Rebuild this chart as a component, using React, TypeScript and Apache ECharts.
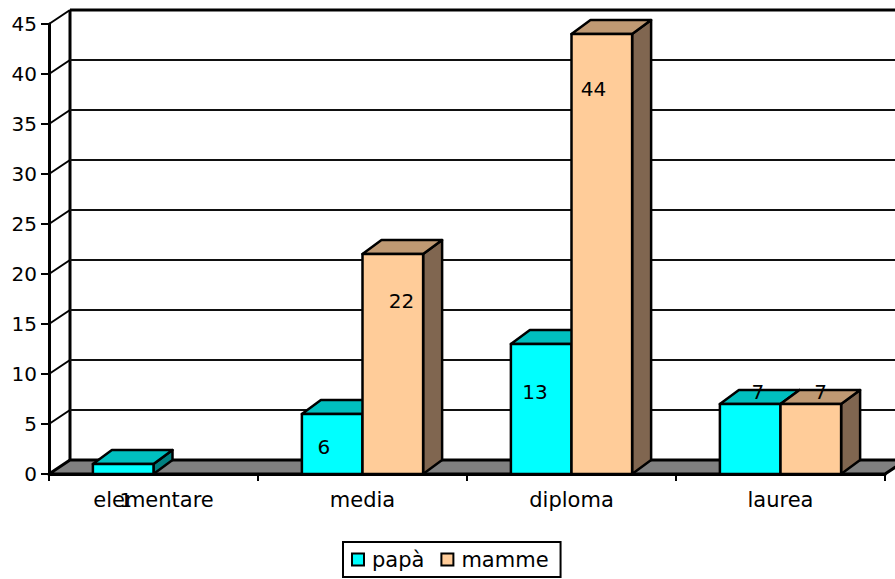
import React, { useEffect, useRef } from "react";
import * as echarts from "echarts";

// Titolo di studio dei genitori
const categories = ["elementare", "media", "diploma", "laurea"];
const papa = [1, 6, 13, 7];
const mamme = [0, 22, 44, 7];
const yTicks = [0, 5, 10, 15, 20, 25, 30, 35, 40, 45];

// Layout of the pseudo-3D look
const WALL_DX = 21;
const WALL_DY = -14;
const BAR_DX = 19;
const BAR_DY = -14;
const BAR_RATIO = 0.29;
const FONT = "DejaVu Sans";

// Where each value label sits, relative to the bar's front top-left corner
const papaLabelNudge = [[33, 36], [22, 33], [24, 48], [38, -12]];
const mammeLabelNudge = [[0, 0], [39, 47], [22, 55], [40, -12]];

const COLORS = {
  papa: { front: "#00FFFF", top: "#00BFBF", side: "#008080" },
  mamme: { front: "#FFCC99", top: "#BF9973", side: "#806650" },
};

function barRenderer(
  side: 0 | 1,
  colors: { front: string; top: string; side: string },
  nudges: number[][]
) {
  return (params: any, api: any) => {
    const ci = api.value(0);
    const v = api.value(1);
    if (!v) return { type: "group", children: [] };
    const base = api.coord([ci, 0]);
    const tip = api.coord([ci, v]);
    const band = api.size([1, 0])[0];
    const w = band * BAR_RATIO;
    const x0 = side === 0 ? base[0] - w : base[0];
    const x1 = x0 + w;
    const yB = base[1];
    const yT = tip[1];
    const stroke = { stroke: "#000", lineWidth: 2.5, lineJoin: "round" };
    const nudge = nudges[ci] || [w / 2, 30];
    return {
      type: "group",
      children: [
        {
          type: "polygon",
          shape: {
            points: [
              [x1, yT],
              [x1 + BAR_DX, yT + BAR_DY],
              [x1 + BAR_DX, yB + BAR_DY],
              [x1, yB],
            ],
          },
          style: { fill: colors.side, ...stroke },
        },
        {
          type: "polygon",
          shape: {
            points: [
              [x0, yT],
              [x1, yT],
              [x1 + BAR_DX, yT + BAR_DY],
              [x0 + BAR_DX, yT + BAR_DY],
            ],
          },
          style: { fill: colors.top, ...stroke },
        },
        {
          type: "rect",
          shape: { x: x0, y: yT, width: w, height: yB - yT },
          style: { fill: colors.front, ...stroke },
        },
        {
          type: "text",
          x: x0 + nudge[0],
          y: yT + nudge[1],
          style: {
            text: String(v),
            fill: "#000",
            fontSize: 20,
            fontFamily: FONT,
            align: "center",
            verticalAlign: "middle",
          },
        },
      ],
    };
  };
}

function wallRenderer(params: any, api: any) {
  const v = api.value(1);
  const cs = params.coordSys;
  const left = cs.x;
  const right = cs.x + cs.width;
  const y = api.coord([0, v])[1];
  const top = api.coord([0, yTicks[yTicks.length - 1]])[1];
  const children: any[] = [];
  if (v === 0) {
    children.push({
      type: "polygon",
      shape: {
        points: [
          [left, y],
          [right, y],
          [right + WALL_DX, y + WALL_DY],
          [left + WALL_DX, y + WALL_DY],
        ],
      },
      style: { fill: "#808080", stroke: "#000", lineWidth: 3, lineJoin: "round" },
    });
    children.push({
      type: "line",
      shape: { x1: left + WALL_DX, y1: y + WALL_DY, x2: left + WALL_DX, y2: top + WALL_DY },
      style: { stroke: "#000", lineWidth: 3 },
    });
    return { type: "group", children };
  }
  const isTop = v === yTicks[yTicks.length - 1];
  children.push({
    type: "line",
    shape: { x1: left, y1: y, x2: left + WALL_DX, y2: y + WALL_DY },
    style: { stroke: "#000", lineWidth: 2 },
  });
  children.push({
    type: "line",
    shape: { x1: left + WALL_DX, y1: y + WALL_DY, x2: right + WALL_DX, y2: y + WALL_DY },
    style: { stroke: isTop ? "#000" : "#111", lineWidth: isTop ? 3 : 1.8 },
  });
  return { type: "group", children };
}

export default function App() {
  const ref = useRef<HTMLDivElement>(null);

  useEffect(() => {
    document.body.style.margin = "0";
    if (!ref.current) return;
    const chart = echarts.init(ref.current, null, { renderer: "svg" });
    chart.setOption({
      animation: false,
      backgroundColor: "#fff",
      textStyle: { fontFamily: FONT },
      grid: { left: 49, right: 10, top: 24, bottom: 105, containLabel: false },
      legend: {
        data: ["papà", "mamme"],
        left: 343,
        top: 542,
        orient: "horizontal",
        icon: "rect",
        itemWidth: 12,
        itemHeight: 12,
        itemGap: 16,
        borderColor: "#000",
        borderWidth: 2,
        padding: [7, 12, 7, 8],
        itemStyle: { borderColor: "#000", borderWidth: 2 },
        textStyle: { fontSize: 21, fontFamily: FONT, color: "#000", padding: [0, 0, 0, 3] },
        selectedMode: false,
      },
      xAxis: {
        type: "category",
        data: categories,
        boundaryGap: true,
        axisLine: { show: true, lineStyle: { color: "#000", width: 3 } },
        axisTick: { show: true, length: 7, lineStyle: { color: "#000", width: 2 } },
        axisLabel: { fontSize: 21, fontFamily: FONT, color: "#000", margin: 15 },
        splitLine: { show: false },
      },
      yAxis: {
        type: "value",
        min: 0,
        max: 45,
        interval: 5,
        axisLine: { show: true, lineStyle: { color: "#000", width: 3 } },
        axisTick: { show: true, length: 8, lineStyle: { color: "#000", width: 2 } },
        axisLabel: { fontSize: 20, fontFamily: FONT, color: "#000", margin: 12 },
        splitLine: { show: false },
      },
      series: [
        {
          type: "custom",
          silent: true,
          z: 1,
          renderItem: wallRenderer,
          encode: { x: 0, y: 1 },
          data: yTicks.map((t) => [0, t]),
        },
        {
          name: "papà",
          type: "custom",
          z: 3,
          itemStyle: { color: COLORS.papa.front, borderColor: "#000", borderWidth: 2 },
          renderItem: barRenderer(0, COLORS.papa, papaLabelNudge),
          encode: { x: 0, y: 1 },
          data: papa.map((v, i) => [i, v]),
        },
        {
          name: "mamme",
          type: "custom",
          z: 3,
          itemStyle: { color: COLORS.mamme.front, borderColor: "#000", borderWidth: 2 },
          renderItem: barRenderer(1, COLORS.mamme, mammeLabelNudge),
          encode: { x: 0, y: 1 },
          data: mamme.map((v, i) => [i, v]),
        },
      ],
    });
    return () => chart.dispose();
  }, []);

  return (
    <div
      ref={ref}
      style={{ position: "fixed", left: 0, top: 0, width: 895, height: 579 }}
    />
  );
}
